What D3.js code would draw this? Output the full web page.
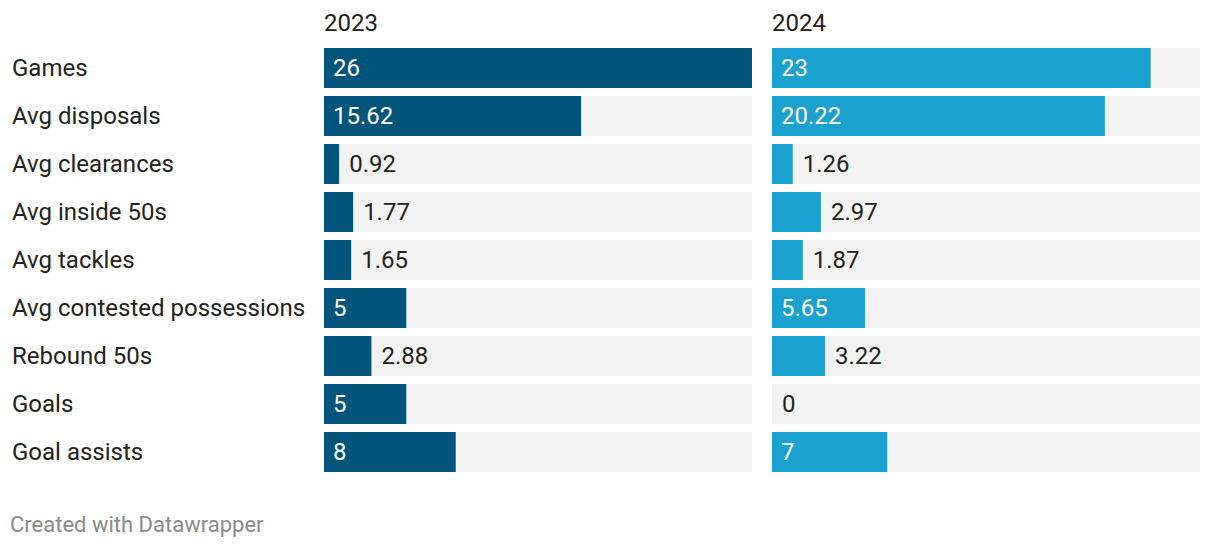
<!DOCTYPE html>
<html><head><meta charset="utf-8">
<script src="https://cdn.jsdelivr.net/npm/d3@7"></script>
<style>
body{margin:0;background:#fff;}
svg{display:block;font-family:Roboto,"Noto Sans",sans-serif;}
</style></head>
<body>
<svg id="chart" width="1220" height="548"></svg>
<script>
const categories = ["Games","Avg disposals","Avg clearances","Avg inside 50s","Avg tackles","Avg contested possessions","Rebound 50s","Goals","Goal assists"];
const seriesNames = ["2023","2024"];
const values2023 = [26,15.62,0.92,1.77,1.65,5,2.88,5,8];
const values2024 = [23,20.22,1.26,2.97,1.87,5.65,3.22,0,7];
const labels2023 = ["26","15.62","0.92","1.77","1.65","5","2.88","5","8"];
const labels2024 = ["23","20.22","1.26","2.97","1.87","5.65","3.22","0","7"];
const colors = ["#01557b","#1aa1cf"];

const svg = d3.select("#chart");
const panelX = [324, 772];
const panelW = 428;
const y = d3.scaleBand().domain(categories)
  .range([48, 48 + 48*categories.length - 8]).paddingInner(8/48).paddingOuter(0);
const x = d3.scaleLinear().domain([0, d3.max([...values2023, ...values2024])]).range([0, panelW]);

const FS = 24;
// row labels
svg.append("g").selectAll("text").data(categories).join("text")
  .attr("x", 12).attr("y", d => y(d) + y.bandwidth()/2).attr("dy","0.35em")
  .attr("font-size", FS).attr("fill", "#222").text(d => d);

const allVals = [values2023, values2024];
const allLabels = [labels2023, labels2024];

const measure = svg.append("text").attr("font-size",FS).attr("visibility","hidden");
function tw(s){ measure.text(s); return measure.node().getComputedTextLength(); }

seriesNames.forEach((name, si) => {
  const g = svg.append("g").attr("transform", `translate(${panelX[si]},0)`);
  g.append("text").attr("x", 0).attr("y", 23).attr("dy","0.35em")
    .attr("font-size", FS).attr("fill","#222").text(name);
  const rows = categories.map((c,i)=>({c, v: allVals[si][i], l: allLabels[si][i]}));
  g.selectAll("rect.bg").data(rows).join("rect").attr("class","bg")
    .attr("x", 0).attr("y", d => y(d.c)).attr("width", panelW).attr("height", y.bandwidth())
    .attr("fill", "#f2f2f2");
  g.selectAll("rect.bar").data(rows).join("rect").attr("class","bar")
    .attr("x", 0).attr("y", d => y(d.c)).attr("width", d => x(d.v)).attr("height", y.bandwidth())
    .attr("fill", colors[si]);
  g.selectAll("text.val").data(rows).join("text").attr("class","val")
    .each(function(d){
      const w = x(d.v);
      const inside = w >= tw(d.l) + 18;
      d3.select(this)
        .attr("x", inside ? 9 : w + 10)
        .attr("fill", inside ? "#fff" : "#222");
    })
    .attr("y", d => y(d.c) + y.bandwidth()/2).attr("dy","0.35em")
    .attr("font-size", FS).text(d => d.l);
});
measure.remove();

svg.append("text").attr("x", 10).attr("y", 524).attr("dy","0.35em")
  .attr("font-size", 22).attr("fill", "#8a8a8a").text("Created with Datawrapper");
</script>
</body></html>
